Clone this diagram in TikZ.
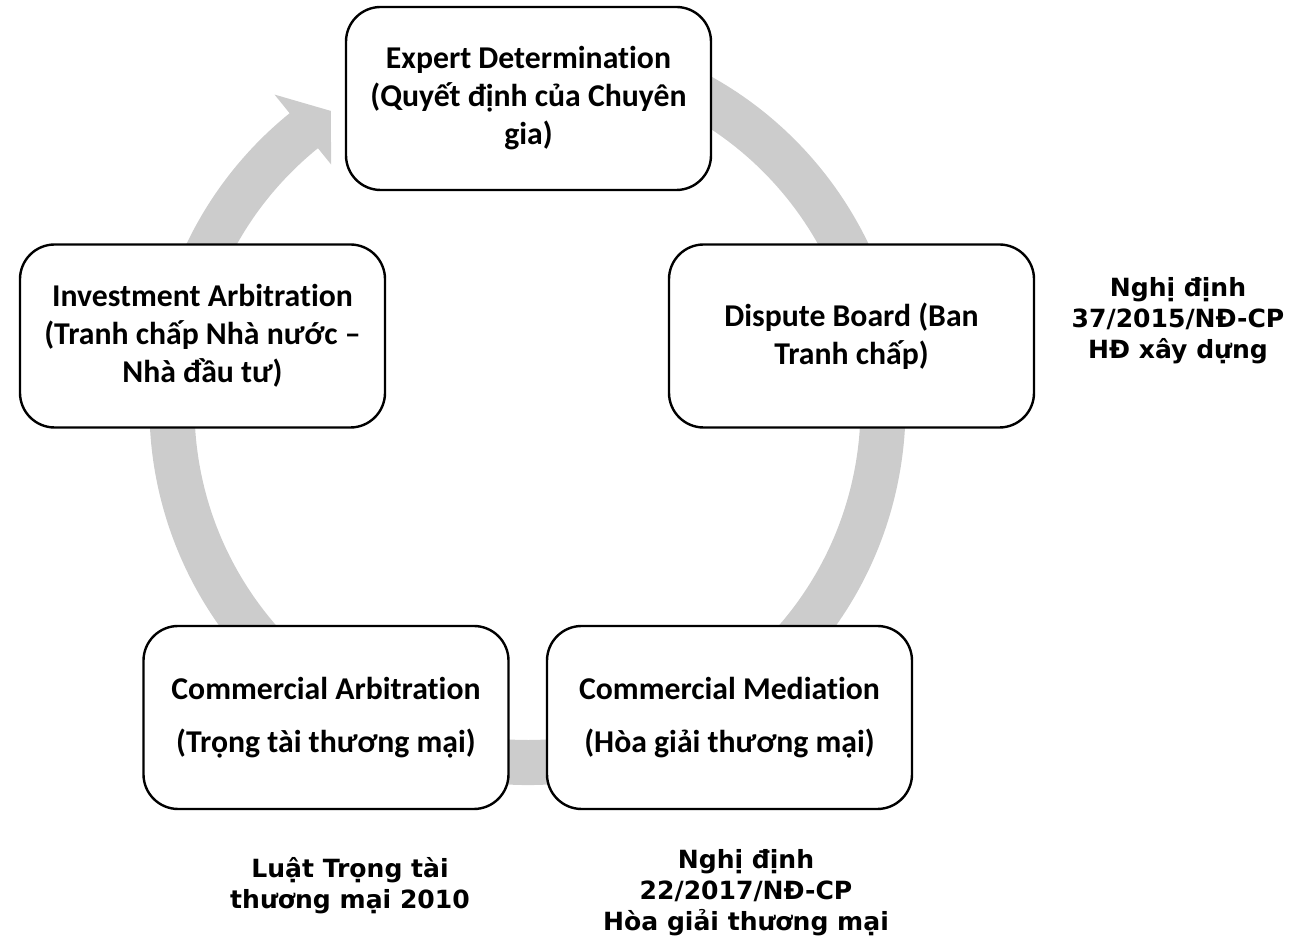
\documentclass[tikz,border=0pt]{standalone}
\usepackage{fontspec}
\setmainfont{Carlito}[Ligatures=NoCommon]
\newfontfamily\notefont{DejaVu Sans}
\usepackage{tikz}
\usepackage{xcolor}
\definecolor{ringgray}{RGB}{204,204,204}

\begin{document}
\begin{tikzpicture}[x=0.75pt,y=0.75pt,
    adrbox/.style={draw=black, line width=1.8pt, fill=white, rounded corners=26pt,
        minimum width=273.75pt, minimum height=137.25pt, align=center,
        font=\fontsize{23.8}{28.5}\selectfont\bfseries},
    lawnote/.style={align=center, font=\notefont\fontsize{18.8}{23.3}\selectfont\bfseries}]

    \useasboundingbox (0,0) rectangle (1300,942);

    % Gray circular arrow behind the boxes
    \begin{scope}[shift={(527.5,535)}]
        \fill[ringgray] (80:378) arc[start angle=80, end angle=-231, radius=378]
            -- (-231:402) -- (-236.4:355.5) -- (-231:312) -- (-231:333)
            arc[start angle=-231, end angle=80, radius=333] -- cycle;
    \end{scope}

    % The five ADR boxes round the cycle
    \node[adrbox] (expert) at (528.5,843.5) {Expert Determination\\(Quyết định của Chuyên\\gia)};
    \node[adrbox] (dispute) at (851.5,606) {Dispute Board (Ban\\Tranh chấp)};
    \node[adrbox] (mediation) at (729.5,224.5) {Commercial Mediation\\[11.25pt](Hòa giải thương mại)};
    \node[adrbox] (arbitration) at (326,224.5) {Commercial Arbitration\\[11.25pt](Trọng tài thương mại)};
    \node[adrbox] (investment) at (202.5,606) {Investment Arbitration\\(Tranh chấp Nhà nước --\\Nhà đầu tư)};

    % Legal bases
    \node[lawnote] (decree37) at (1178,621) {Nghị định\\37/2015/NĐ-CP\\HĐ xây dựng};
    \node[lawnote] (law2010) at (350,56) {Luật Trọng tài\\thương mại 2010};
    \node[lawnote] (decree22) at (746,49) {Nghị định\\22/2017/NĐ-CP\\Hòa giải thương mại};

\end{tikzpicture}
\end{document}
